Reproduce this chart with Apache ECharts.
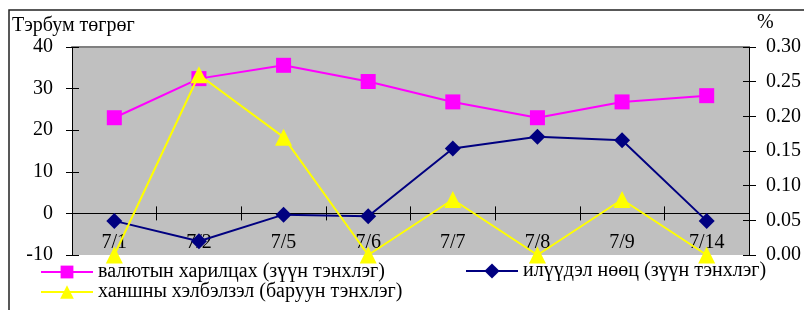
<!DOCTYPE html>
<html><head><meta charset="utf-8">
<script src="https://cdn.jsdelivr.net/npm/echarts@6/dist/echarts.min.js"></script>
<style>html,body{margin:0;padding:0;background:#fff}#c{width:804px;height:310px}</style>
</head><body><div id="c"></div>
<script>
const categories = ['7/1','7/2','7/5','7/6','7/7','7/8','7/9','7/14'];
const currency = [23.0, 32.4, 35.6, 31.7, 26.8, 23.0, 26.8, 28.3];
const reserve = [-1.8, -6.7, -0.3, -0.7, 15.6, 18.4, 17.6, -1.8];
const rateChange = [0.00, 0.26, 0.17, 0.00, 0.08, 0.00, 0.08, 0.00];
const leftTicks = {min: -10, max: 40, interval: 10};
const rightTicks = {min: 0, max: 0.30, interval: 0.05};
const names = ['валютын харилцах (зүүн тэнхлэг)', 'илүүдэл нөөц (зүүн тэнхлэг)', 'ханшны хэлбэлзэл (баруун тэнхлэг)'];

const FONT = 'Liberation Serif';
const FS = 20;
const GRID = {left: 72, top: 47, right: 52, bottom: 55};
const plotH = 310 - GRID.top - GRID.bottom;
// distance of the left axis' zero from the plot bottom, derived from the axis range
const zeroOffset = -plotH * (0 - leftTicks.min) / (leftTicks.max - leftTicks.min);

const chart = echarts.init(document.getElementById('c'), null, {renderer: 'canvas'});
const lblStyle = {color: '#000', fontFamily: FONT, fontSize: FS};
chart.setOption({
  animation: false,
  backgroundColor: '#fff',
  textStyle: {fontFamily: FONT},
  graphic: [
    {type: 'rect', shape: {x: 9, y: 10, width: 820, height: 320}, style: {fill: 'none', stroke: '#222', lineWidth: 1.5}, z: 100},
    {type: 'text', left: 12, top: 16, style: {text: 'Тэрбум төгрөг', font: FS + 'px "' + FONT + '"', fill: '#000'}},
    {type: 'text', left: 757, top: 13, style: {text: '%', font: FS + 'px "' + FONT + '"', fill: '#000'}}
  ],
  grid: {...GRID, show: true, backgroundColor: '#C0C0C0', borderWidth: 0},
  legend: [
    {left: 40, top: 262, padding: 0, itemWidth: 52, itemHeight: 16, data: [names[0]], textStyle: lblStyle},
    {left: 40, top: 282, padding: 0, itemWidth: 52, itemHeight: 17, data: [names[2]], textStyle: lblStyle},
    {left: 465, top: 261, padding: 0, itemWidth: 52, itemHeight: 19, data: [names[1]], textStyle: lblStyle}
  ],
  xAxis: [
    {type: 'category', data: categories, boundaryGap: true, position: 'bottom', offset: zeroOffset,
     axisLine: {onZero: false, lineStyle: {color: '#000', width: 1}},
     axisTick: {show: true, length: 7, lineStyle: {color: '#000'}},
     axisLabel: {margin: 19, ...lblStyle}, splitLine: {show: false}},
    {type: 'category', data: categories, boundaryGap: true, position: 'bottom', offset: zeroOffset,
     axisLine: {onZero: false, show: false},
     axisTick: {show: true, inside: true, length: 7, lineStyle: {color: '#000'}},
     axisLabel: {show: false}, splitLine: {show: false}},
    {type: 'category', data: categories, position: 'top',
     axisLine: {onZero: false, show: true, lineStyle: {color: '#808080', width: 2}},
     axisTick: {show: false}, axisLabel: {show: false}, splitLine: {show: false}}
  ],
  yAxis: [
    {type: 'value', position: 'left', ...leftTicks,
     axisLine: {show: true, onZero: false, lineStyle: {color: '#000'}},
     axisTick: {show: true, length: 6, lineStyle: {color: '#000'}},
     axisLabel: {margin: 19, ...lblStyle}, splitLine: {show: false}},
    {type: 'value', position: 'right', ...rightTicks,
     axisLine: {show: true, onZero: false, lineStyle: {color: '#000'}},
     axisTick: {show: true, length: 7, lineStyle: {color: '#000'}},
     axisLabel: {margin: 17, formatter: v => v.toFixed(2), ...lblStyle}, splitLine: {show: false}},
    {type: 'value', position: 'left', ...leftTicks,
     axisLine: {show: false, onZero: false}, axisTick: {show: true, inside: true, length: 7, lineStyle: {color: '#000'}},
     axisLabel: {show: false}, splitLine: {show: false}},
    {type: 'value', position: 'right', ...rightTicks,
     axisLine: {show: false, onZero: false}, axisTick: {show: true, inside: true, length: 6, lineStyle: {color: '#000'}},
     axisLabel: {show: false}, splitLine: {show: false}}
  ],
  series: [
    {name: names[0], type: 'line', data: currency, yAxisIndex: 0, symbol: 'rect', symbolSize: 15,
     itemStyle: {color: '#FF00FF'}, lineStyle: {color: '#FF00FF', width: 2}, z: 3},
    {name: names[1], type: 'line', data: reserve, yAxisIndex: 0, symbol: 'diamond', symbolSize: 16,
     itemStyle: {color: '#000080'}, lineStyle: {color: '#000080', width: 2}, z: 3},
    {name: names[2], type: 'line', data: rateChange, yAxisIndex: 1, symbol: 'triangle', symbolSize: 17,
     itemStyle: {color: '#FFFF00'}, lineStyle: {color: '#FFFF00', width: 2}, z: 4}
  ]
});
</script></body></html>
